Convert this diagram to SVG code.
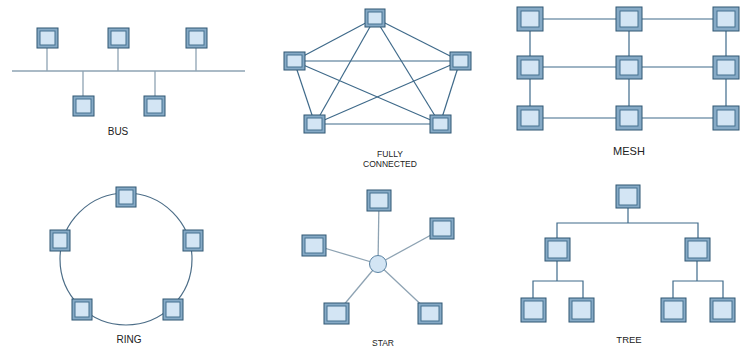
<svg xmlns="http://www.w3.org/2000/svg" width="749" height="347" viewBox="0 0 749 347">
<style>
.o{fill:#86aac6;stroke:#2f5673;stroke-width:1}
.i{fill:#d3e5f4;stroke:#44708f;stroke-width:1}
.ln{stroke:#3f6a8a;stroke-width:1.2;fill:none}
.lt{stroke:#8ea3b3;stroke-width:1.3;fill:none}
.t{font-family:"Liberation Sans",Arial,sans-serif;fill:#222;text-anchor:middle}
</style>
<rect width="749" height="347" fill="#fff"/>
<g id="connectors">
<g class="lt">
<line x1="12" y1="71" x2="245" y2="71"/>
<line x1="47" y1="48" x2="47" y2="71"/>
<line x1="118" y1="48" x2="118" y2="71"/>
<line x1="196" y1="48" x2="196" y2="71"/>
<line x1="83" y1="71" x2="83" y2="96"/>
<line x1="155" y1="71" x2="155" y2="96"/>
</g>
<g class="ln">
<line x1="375" y1="18" x2="294" y2="61"/>
<line x1="375" y1="18" x2="460" y2="61"/>
<line x1="375" y1="18" x2="315" y2="124"/>
<line x1="375" y1="18" x2="440" y2="124"/>
<line x1="294" y1="61" x2="460" y2="61"/>
<line x1="294" y1="61" x2="315" y2="124"/>
<line x1="294" y1="61" x2="440" y2="124"/>
<line x1="460" y1="61" x2="315" y2="124"/>
<line x1="460" y1="61" x2="440" y2="124"/>
<line x1="315" y1="124" x2="440" y2="124"/>
</g>
<g class="ln">
<line x1="530" y1="19" x2="726" y2="19"/>
<line x1="530" y1="67" x2="726" y2="67"/>
<line x1="530" y1="118" x2="726" y2="118"/>
<line x1="530" y1="19" x2="530" y2="118"/>
<line x1="629" y1="19" x2="629" y2="118"/>
<line x1="726" y1="19" x2="726" y2="118"/>
</g>
<circle cx="126" cy="259" r="66" fill="none" stroke="#4d6e88" stroke-width="1.2"/>
<g class="lt">
<line x1="378" y1="264" x2="379" y2="200"/>
<line x1="378" y1="264" x2="442" y2="229"/>
<line x1="378" y1="264" x2="314" y2="245"/>
<line x1="378" y1="264" x2="337" y2="313"/>
<line x1="378" y1="264" x2="430" y2="313"/>
</g>
<g class="ln">
<polyline points="628,208 628,223"/>
<polyline points="557,238 557,223 698,223 698,238"/>
<polyline points="557,261 557,281"/>
<polyline points="533,298 533,281 583,281 583,298"/>
<polyline points="697,261 697,281"/>
<polyline points="673,298 673,281 723,281 723,298"/>
</g>
</g>
<g id="bus1"><rect class="o" x="37" y="28" width="21" height="20"/><rect class="i" x="40" y="31" width="15" height="14"/></g>
<g id="bus2"><rect class="o" x="108" y="28" width="21" height="20"/><rect class="i" x="111" y="31" width="15" height="14"/></g>
<g id="bus3"><rect class="o" x="186" y="28" width="21" height="20"/><rect class="i" x="189" y="31" width="15" height="14"/></g>
<g id="bus4"><rect class="o" x="73" y="96" width="21" height="20"/><rect class="i" x="76" y="99" width="15" height="14"/></g>
<g id="bus5"><rect class="o" x="144" y="96" width="21" height="20"/><rect class="i" x="147" y="99" width="15" height="14"/></g>
<text class="t" x="118" y="135" font-size="10">BUS</text>
<g id="fc1"><rect class="o" x="365" y="9" width="20" height="18"/><rect class="i" x="368" y="12" width="14" height="12"/></g>
<g id="fc2"><rect class="o" x="284" y="52" width="21" height="18"/><rect class="i" x="287" y="55" width="15" height="12"/></g>
<g id="fc3"><rect class="o" x="450" y="52" width="21" height="18"/><rect class="i" x="453" y="55" width="15" height="12"/></g>
<g id="fc4"><rect class="o" x="304" y="115" width="21" height="18"/><rect class="i" x="307" y="118" width="15" height="12"/></g>
<g id="fc5"><rect class="o" x="430" y="115" width="21" height="18"/><rect class="i" x="433" y="118" width="15" height="12"/></g>
<text class="t" x="390" y="157" font-size="8.5">FULLY</text>
<text class="t" x="390" y="167" font-size="8.5">CONNECTED</text>
<g id="m1"><rect class="o" x="517" y="7" width="26" height="24"/><rect class="i" x="521" y="11" width="18" height="16"/></g>
<g id="m2"><rect class="o" x="616" y="7" width="26" height="24"/><rect class="i" x="620" y="11" width="18" height="16"/></g>
<g id="m3"><rect class="o" x="713" y="7" width="26" height="24"/><rect class="i" x="717" y="11" width="18" height="16"/></g>
<g id="m4"><rect class="o" x="517" y="56" width="26" height="23"/><rect class="i" x="521" y="60" width="18" height="15"/></g>
<g id="m5"><rect class="o" x="616" y="56" width="26" height="23"/><rect class="i" x="620" y="60" width="18" height="15"/></g>
<g id="m6"><rect class="o" x="713" y="56" width="26" height="23"/><rect class="i" x="717" y="60" width="18" height="15"/></g>
<g id="m7"><rect class="o" x="517" y="106" width="26" height="24"/><rect class="i" x="521" y="110" width="18" height="16"/></g>
<g id="m8"><rect class="o" x="616" y="106" width="26" height="24"/><rect class="i" x="620" y="110" width="18" height="16"/></g>
<g id="m9"><rect class="o" x="713" y="106" width="26" height="24"/><rect class="i" x="717" y="110" width="18" height="16"/></g>
<text class="t" x="629" y="155" font-size="11">MESH</text>
<g id="r1"><rect class="o" x="116" y="187" width="20" height="20"/><rect class="i" x="119" y="190" width="14" height="14"/></g>
<g id="r2"><rect class="o" x="50" y="230" width="20" height="21"/><rect class="i" x="53" y="233" width="14" height="15"/></g>
<g id="r3"><rect class="o" x="183" y="230" width="20" height="21"/><rect class="i" x="186" y="233" width="14" height="15"/></g>
<g id="r4"><rect class="o" x="72" y="299" width="20" height="21"/><rect class="i" x="75" y="302" width="14" height="15"/></g>
<g id="r5"><rect class="o" x="163" y="299" width="20" height="21"/><rect class="i" x="166" y="302" width="14" height="15"/></g>
<text class="t" x="129" y="343" font-size="10">RING</text>
<g id="hub"><circle cx="378" cy="264" r="8.5" fill="#d3e5f4" stroke="#5b83a3" stroke-width="1"/></g>
<g id="s1"><rect class="o" x="367" y="190" width="24" height="21"/><rect class="i" x="370" y="193" width="18" height="15"/></g>
<g id="s2"><rect class="o" x="430" y="218" width="24" height="21"/><rect class="i" x="433" y="221" width="18" height="15"/></g>
<g id="s3"><rect class="o" x="302" y="235" width="24" height="21"/><rect class="i" x="305" y="238" width="18" height="15"/></g>
<g id="s4"><rect class="o" x="324" y="303" width="25" height="21"/><rect class="i" x="327" y="306" width="19" height="15"/></g>
<g id="s5"><rect class="o" x="418" y="303" width="24" height="21"/><rect class="i" x="421" y="306" width="18" height="15"/></g>
<text class="t" x="383" y="345.5" font-size="8.5">STAR</text>
<g id="t1"><rect class="o" x="616" y="185" width="24" height="23"/><rect class="i" x="619" y="188" width="18" height="17"/></g>
<g id="t2"><rect class="o" x="545" y="238" width="25" height="23"/><rect class="i" x="548" y="241" width="19" height="17"/></g>
<g id="t3"><rect class="o" x="685" y="238" width="25" height="23"/><rect class="i" x="688" y="241" width="19" height="17"/></g>
<g id="t4"><rect class="o" x="521" y="298" width="25" height="24"/><rect class="i" x="524" y="301" width="19" height="18"/></g>
<g id="t5"><rect class="o" x="569" y="298" width="25" height="24"/><rect class="i" x="572" y="301" width="19" height="18"/></g>
<g id="t6"><rect class="o" x="661" y="298" width="25" height="24"/><rect class="i" x="664" y="301" width="19" height="18"/></g>
<g id="t7"><rect class="o" x="710" y="298" width="25" height="24"/><rect class="i" x="713" y="301" width="19" height="18"/></g>
<text class="t" x="629" y="343" font-size="9.5">TREE</text>
</svg>
